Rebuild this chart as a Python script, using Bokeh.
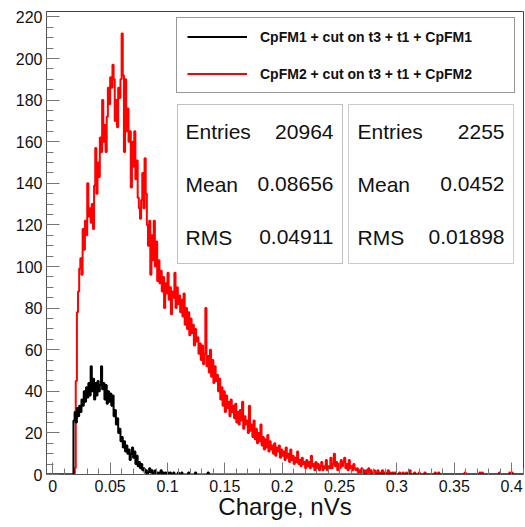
import numpy as np
from bokeh.plotting import figure
from bokeh.models import (Range1d, SingleIntervalTicker, NumeralTickFormatter, Legend,
                          LegendItem, BoxAnnotation, Label)
from bokeh.embed import file_html
from bokeh.resources import INLINE

# ---------------- data ----------------
bin_width = 0.001

# CpFM2 (red): counts per bin starting at 0.019
red_first_bin = 0.019
red_counts = [
    3, 45, 78, 88, 99, 104, 96, 118, 108, 122,
    115, 140, 124, 128, 121, 130, 118, 139, 157, 135,
    150, 143, 162, 155, 180, 160, 168, 155, 172, 186,
    178, 191, 186, 197, 190, 170, 180, 167, 186, 181,
    190, 212, 192, 155, 190, 165, 176, 160, 165, 138,
    160, 148, 165, 142, 151, 133, 128, 123, 132, 145,
    128, 152, 135, 120, 110, 122, 96, 115, 103, 122,
    100, 112, 93, 103, 92, 98, 88, 95, 80, 92,
    87, 97, 84, 90, 77, 88, 85, 97, 80, 90,
    82, 86, 78, 84, 76, 87, 72, 80, 70, 78,
    67, 75, 68, 72, 62, 70, 64, 66, 58, 63,
    55, 62, 53, 58, 80, 52, 57, 49, 60, 47,
    55, 44, 52, 45, 48, 40, 46, 36, 42, 33,
    40, 30, 38, 32, 35, 28, 36, 30, 33, 27,
    34, 25, 30, 24, 31, 26, 35, 22, 28, 24,
    26, 20, 33, 21, 24, 18, 26, 17, 22, 15,
    20, 16, 24, 14, 18, 12, 17, 13, 19, 11,
    16, 12, 14, 10, 15, 9, 13, 11, 14, 8,
    12, 9, 11, 7, 13, 8, 10, 6, 12, 7,
    9, 5, 8, 6, 11, 5, 7, 4, 8, 5,
    6, 3, 7, 4, 6, 3, 9, 4, 5, 2,
    6, 3, 5, 2, 4, 6, 2, 4, 3, 7,
    2, 4, 3, 8, 3, 5, 10, 4, 6, 2,
    5, 3, 7, 4, 6, 8, 3, 5, 2, 7,
    3, 4, 2, 5, 3, 2, 3, 1, 2, 1,
    3, 1, 2, 0, 2, 1, 3, 1, 2, 0,
    1, 2, 1, 0, 2, 1, 0, 1, 2, 0,
    1, 0, 1, 2, 0, 1, 0, 1, 0, 1,
    0,
]
red_tail_bins = [0.302, 0.305, 0.308, 0.311, 0.315, 0.319, 0.324, 0.333, 0.336,
                 0.359, 0.372, 0.374, 0.389, 0.398, 0.400]
red_tail_counts = [1, 1, 1, 2, 1, 1, 1, 1, 1, 1, 1, 1, 1, 1, 1]

# CpFM1 (black): counts per bin starting at 0.018
black_first_bin = 0.018
black_counts = [
    26, 30, 25, 32, 28, 33, 30, 36, 33, 40,
    35, 42, 37, 44, 38, 52, 40, 46, 36, 44,
    38, 45, 40, 43, 52, 41, 44, 36, 43, 34,
    40, 35, 39, 33, 38, 28, 31, 24, 27, 20,
    22, 16, 18, 13, 16, 11, 14, 10, 12, 7,
    10, 13, 8, 11, 5, 9, 4, 6, 3, 5,
    2, 3, 1, 2, 0, 1, 3, 1, 2, 0,
    1, 2, 0, 1, 0, 1, 2, 0, 1, 0,
    1, 0, 1, 0, 1, 0, 0, 1,
]
black_tail_bins = [0.109, 0.112, 0.118, 0.124, 0.135]
black_tail_counts = [1, 1, 1, 1, 1]

legend_labels = ["CpFM1 + cut on t3 + t1 + CpFM1", "CpFM2 + cut on t3 + t1 + CpFM2"]
stats_names = ["Entries", "Mean", "RMS"]
stats_red = ["20964", "0.08656", "0.04911"]
stats_black = ["2255", "0.0452", "0.01898"]
x_label = "Charge, nVs"

hist_lo, hist_hi = -0.006, 0.411

# ---------------- build histograms ----------------
n_bins = int(round((hist_hi - hist_lo) / bin_width))
edges = hist_lo + bin_width * np.arange(n_bins + 1)


def fill(first, counts, tail_bins, tail_counts):
    arr = np.zeros(n_bins)
    i0 = int(round((first - hist_lo) / bin_width))
    arr[i0:i0 + len(counts)] = counts
    for b, c in zip(tail_bins, tail_counts):
        arr[int(round((b - hist_lo) / bin_width))] = c
    return np.append(arr, arr[-1])


red_y = fill(red_first_bin, red_counts, red_tail_bins, red_tail_counts)
black_y = fill(black_first_bin, black_counts, black_tail_bins, black_tail_counts)

# ---------------- figure ----------------
W, H = 525, 527
FL, FR, FT, FB = 46, 523, 11, 474
x0, x1 = -0.0055, 0.4104
y0, y1 = 0.0, 222.6

p = figure(width=W, height=H, x_range=Range1d(x0, x1), y_range=Range1d(y0, y1),
           output_backend="svg", toolbar_location=None,
           min_border_left=FL, min_border_right=W - FR, min_border_top=FT,
           min_border_bottom=H - FB)
p.grid.visible = False
p.background_fill_color = "white"
p.border_fill_color = "white"
p.outline_line_color = "#444444"
p.outline_line_width = 1


def px2x(px):
    return x0 + (px - FL) / (FR - FL) * (x1 - x0)


def py2y(py):
    return y0 + (FB - py) / (FB - FT) * (y1 - y0)


r_red = p.step(edges, red_y, mode="after", line_color="#ff0000", line_width=2)
r_black = p.step(edges, black_y, mode="after", line_color="#000000", line_width=2)

FONT = "Liberation Sans"
for ax in (p.xaxis[0], p.yaxis[0]):
    ax.axis_line_color = "#555555"
    ax.major_tick_line_color = "#777777"
    ax.minor_tick_line_color = "#777777"
    ax.major_tick_out = 0
    ax.minor_tick_out = 0
    ax.major_label_text_font = FONT
    ax.major_label_text_font_size = "16px"
    ax.major_label_text_color = "#111111"

p.xaxis[0].ticker = SingleIntervalTicker(interval=0.05, num_minor_ticks=5)
p.xaxis[0].formatter = NumeralTickFormatter(format="0.[00]")
p.xaxis[0].major_tick_in = 12
p.xaxis[0].minor_tick_in = 6
p.xaxis[0].major_label_standoff = 5
p.xaxis[0].axis_label = x_label
p.xaxis[0].axis_label_text_font = FONT
p.xaxis[0].axis_label_text_font_size = "24px"
p.xaxis[0].axis_label_text_font_style = "normal"
p.xaxis[0].axis_label_text_color = "#111111"
p.xaxis[0].axis_label_standoff = -2

p.yaxis[0].ticker = SingleIntervalTicker(interval=20, num_minor_ticks=4)
p.yaxis[0].major_tick_in = 13
p.yaxis[0].minor_tick_in = 7
p.yaxis[0].major_label_standoff = 4

# ---------------- legend ----------------
legend = Legend(items=[LegendItem(label=legend_labels[0], renderers=[r_black]),
                       LegendItem(label=legend_labels[1], renderers=[r_red])],
                location=(176 - FL, FB - 93), orientation="vertical")
legend.margin = 0
legend.padding = 10
legend.spacing = 20
legend.glyph_width = 60
legend.glyph_height = 17
legend.label_height = 17
legend.label_standoff = 13
legend.label_width = 244
legend.label_text_font = FONT
legend.label_text_font_size = "14px"
legend.label_text_font_style = "bold"
legend.label_text_color = "#111111"
legend.border_line_color = "#333333"
legend.border_line_width = 1
legend.background_fill_color = "white"
legend.background_fill_alpha = 1.0
p.add_layout(legend)

# ---------------- stats boxes ----------------
boxes = [
    (177, 342, 185, 333, stats_red, "#333333"),
    (348, 513, 357, 504, stats_black, "#555555"),
]
row_baselines = [131, 183.5, 236.5]
for (bl, br, tl, tr, vals, col) in boxes:
    p.add_layout(BoxAnnotation(left=px2x(bl), right=px2x(br), top=py2y(104), bottom=py2y(263),
                               fill_color="white", fill_alpha=1.0, line_color=col,
                               line_width=1, level="overlay"))
for (bl, br, tl, tr, vals, col) in boxes:
    for name, v, by in zip(stats_names, vals, row_baselines):
        p.add_layout(Label(x=px2x(tl), y=py2y(by), text=name, text_align="left",
                           text_baseline="alphabetic", text_font=FONT,
                           text_font_size="21px", text_color="#111111", level="overlay"))
        p.add_layout(Label(x=px2x(tr), y=py2y(by), text=v, text_align="right",
                           text_baseline="alphabetic", text_font=FONT,
                           text_font_size="21px", text_color="#111111", level="overlay"))

open("out.html", "w").write(file_html(p, INLINE))
